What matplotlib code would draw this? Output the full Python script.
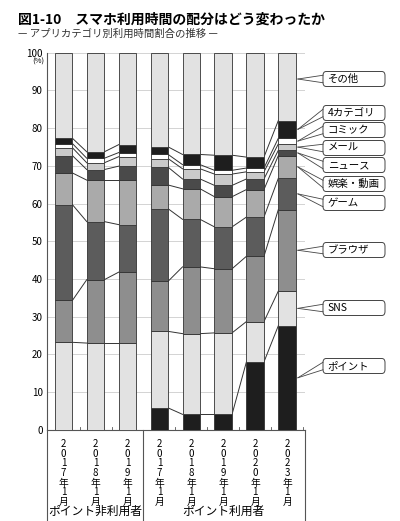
import matplotlib
matplotlib.use('Agg')
import matplotlib.pyplot as plt
from matplotlib.patches import FancyBboxPatch
from matplotlib.lines import Line2D
import numpy as np

plt.rcParams['font.family'] = ['Noto Sans CJK JP', 'DejaVu Sans']

categories = ['ポイント', 'SNS', 'ブラウザ', 'ゲーム', '娯楽・動画', 'ニュース',
              'メール', 'コミック', '4カテゴリ', 'その他']
colors = ['#1e1e1e', '#e2e2e2', '#8e8e8e', '#5c5c5c', '#aaaaaa', '#4a4a4a',
          '#cacaca', '#ffffff', '#1e1e1e', '#e2e2e2']
x_labels = ['2017年1月', '2018年1月', '2019年1月', '2017年1月', '2018年1月',
            '2019年1月', '2020年1月', '2023年1月']

# rows = bars, columns = categories (percent)
values = np.array([
    [0.0, 23.2, 11.1, 25.4, 8.4, 4.6, 2.1, 1.1, 1.4, 22.7],
    [0.0, 23.0, 16.8, 15.4, 11.0, 2.8, 1.8, 1.2, 1.7, 26.3],
    [0.0, 23.0, 18.8, 12.6, 11.8, 3.7, 2.5, 1.1, 2.1, 24.4],
    [5.8, 20.3, 13.3, 19.2, 6.3, 4.7, 2.3, 1.1, 2.0, 25.0],
    [4.1, 21.4, 17.7, 12.6, 8.1, 2.6, 2.7, 1.1, 2.7, 27.0],
    [4.1, 21.6, 17.0, 11.1, 8.0, 3.0, 3.0, 1.0, 4.0, 27.2],
    [18.0, 10.7, 17.3, 10.4, 7.3, 2.8, 1.9, 1.0, 2.9, 27.7],
    [27.6, 9.2, 21.6, 8.3, 6.0, 1.4, 1.7, 1.5, 4.7, 18.0],
])
# label box centres (figure pixels from top)
label_y_px = [366, 308, 250, 203, 184, 165, 148, 130, 113, 79]

fig = plt.figure(figsize=(4.0, 5.21), dpi=100)
ax = fig.add_axes([0.1175, 0.175, 0.645, 0.724])

x = np.arange(len(values))
w = 0.55
cum = np.zeros(len(values))
tops = []
for j in range(len(categories)):
    ax.bar(x, values[:, j], w, bottom=cum, color=colors[j], edgecolor='#333333',
           linewidth=0.6, zorder=3)
    cum = cum + values[:, j]
    tops.append(cum.copy())

# connector lines within groups
for t in tops[:-1]:
    for a, b in [(0, 1), (1, 2), (3, 4), (4, 5), (5, 6), (6, 7)]:
        if t[a] == 0 and t[b] == 0:
            continue
        ax.plot([a + w / 2, b - w / 2], [t[a], t[b]], color='#333333', lw=0.7, zorder=2)

ax.set_xlim(-0.52, 7.56)
ax.set_ylim(0, 100)
ax.set_yticks(range(0, 101, 10))
ax.yaxis.grid(True, color='#cccccc', lw=0.6, zorder=0)
ax.tick_params(axis='y', labelsize=7, length=0, pad=3)
ax.set_xticks([])
for s in ['top', 'right']:
    ax.spines[s].set_visible(False)
ax.spines['left'].set_color('#555555')
ax.spines['bottom'].set_color('#555555')
ax.text(-0.6, 97.5, '(%)', fontsize=5.5, ha='right', va='center')

# minor ticks between bars at the bottom
for xm in np.arange(0.5, 7.6, 1.0):
    if abs(xm - 2.5) < 0.01:
        continue
    ax.plot([xm, xm], [0, 0.8], color='#555555', lw=0.6, clip_on=False)

# year labels (vertical stacked chars)
for i, lab in enumerate(x_labels):
    ax.text(i, -2.5, '\n'.join(lab), ha='center', va='top', fontsize=7,
            linespacing=0.95)

# group separators and labels
sep = Line2D([0, 0], [0, 0])
for xs in [-0.52, 2.5, 7.56]:
    ax.plot([xs, xs], [0, -25.5], color='#555555', lw=0.8, clip_on=False)
ax.text(1, -21.5, 'ポイント非利用者', ha='center', va='center', fontsize=8.5)
ax.text(5, -21.5, 'ポイント利用者', ha='center', va='center', fontsize=8.5)

# callout labels on the right
H = 521.0
bar_right = 7 + w / 2
mids = values[7].cumsum() - values[7] / 2
mids[-1] = 93
box_x0, box_w, box_h = 323 / 400, 62 / 400, 15 / H
for k, cat in enumerate(categories):
    yc = 1 - label_y_px[k] / H
    px, py = fig.transFigure.inverted().transform(ax.transData.transform((bar_right, mids[k])))
    px += 0.005
    fig.add_artist(FancyBboxPatch((box_x0, yc - box_h / 2), box_w, box_h,
                                  boxstyle='round,pad=0,rounding_size=0.008',
                                  transform=fig.transFigure, fc='white',
                                  ec='#444444', lw=0.7))
    for dy in (0.25, -0.25):
        fig.add_artist(Line2D([px, box_x0], [py, yc + dy * box_h], transform=fig.transFigure,
                              color='#444444', lw=0.6))
    fig.text(box_x0 + 0.012, yc, cat, fontsize=7.5, ha='left', va='center')

fig.text(0.045, 0.963, '図1-10　スマホ利用時間の配分はどう変わったか', fontsize=10,
         fontweight='bold', va='center')
fig.text(0.045, 0.935, '— アプリカテゴリ別利用時間割合の推移 —', fontsize=7.5,
         va='center', color='#333333')

fig.savefig('out.png', dpi=100)
